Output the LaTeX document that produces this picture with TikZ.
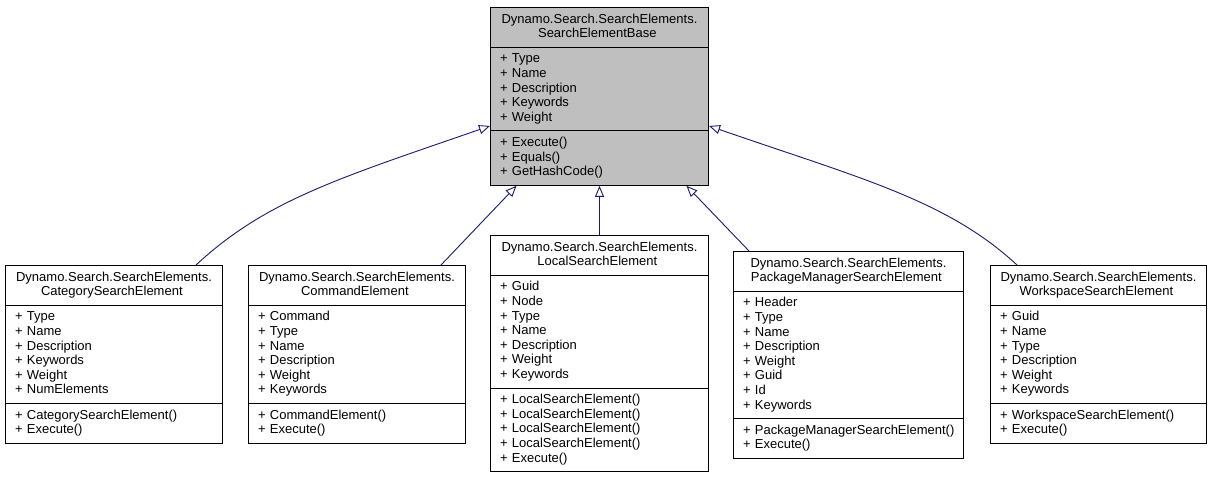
\documentclass[tikz,border=0pt]{standalone}
\usepackage{fontspec}
\setmainfont{Liberation Sans}
\usetikzlibrary{arrows.meta,shapes.multipart,positioning}
\definecolor{navy}{HTML}{191970}
\definecolor{basegray}{HTML}{BFBFBF}
\setlength{\parindent}{0pt}
\hyphenpenalty=10000

\begin{document}
\begin{tikzpicture}[x=1pt,y=1pt]
\tikzset{cls/.style={rectangle split, rectangle split parts=3, draw=black, line width=1pt, fill=white,
  anchor=north west, align=left, every text node part/.style={align=center},
  inner xsep=9.5pt, inner ysep=4.8pt,
  font=\fontsize{13}{14.6}\selectfont, execute at begin node=\strut, execute at end node=\strut}}
\tikzset{basecls/.style={cls, fill=basegray}}
\tikzset{inh/.style={draw=navy, line width=0.9pt, -{Triangle[open,length=11pt,width=9pt]}}}

\useasboundingbox (0,0) rectangle (1213,-480);

\node [basecls, text width=199pt] (base) at (490,-7) {Dynamo.Search.SearchElements.\\SearchElementBase
  \nodepart{two}+ Type\\+ Name\\+ Description\\+ Keywords\\+ Weight
  \nodepart{three}+ Execute()\\+ Equals()\\+ GetHashCode()};

\node [cls, text width=198pt] (catg) at (5,-265) {Dynamo.Search.SearchElements.\\CategorySearchElement
  \nodepart{two}+ Type\\+ Name\\+ Description\\+ Keywords\\+ Weight\\+ NumElements
  \nodepart{three}+ CategorySearchElement()\\+ Execute()};
\node [cls, text width=198pt] (cmd) at (248,-265) {Dynamo.Search.SearchElements.\\CommandElement
  \nodepart{two}+ Command\\+ Type\\+ Name\\+ Description\\+ Weight\\+ Keywords
  \nodepart{three}+ CommandElement()\\+ Execute()};
\node [cls, text width=199pt] (loc) at (490,-235) {Dynamo.Search.SearchElements.\\LocalSearchElement
  \nodepart{two}+ Guid\\+ Node\\+ Type\\+ Name\\+ Description\\+ Weight\\+ Keywords
  \nodepart{three}+ LocalSearchElement()\\+ LocalSearchElement()\\+ LocalSearchElement()\\+ LocalSearchElement()\\+ Execute()};
\node [cls, text width=211pt] (pkg) at (733,-251) {Dynamo.Search.SearchElements.\\PackageManagerSearchElement
  \nodepart{two}+ Header\\+ Type\\+ Name\\+ Description\\+ Weight\\+ Guid\\+ Id\\+ Keywords
  \nodepart{three}+~PackageManagerSearchElement()\\+ Execute()};
\node [cls, text width=197pt] (wks) at (990,-265) {Dynamo.Search.SearchElements.\\WorkspaceSearchElement
  \nodepart{two}+ Guid\\+ Name\\+ Type\\+ Description\\+ Weight\\+ Keywords
  \nodepart{three}+ WorkspaceSearchElement()\\+ Execute()};

% inheritance
\path [inh] ([xshift=-27pt]catg.north east) .. controls +(70,65) and +(-150,-52) .. ([yshift=5pt]base.two split west);
\path [inh] ([xshift=-25pt]cmd.north east) -- ([xshift=-83pt]base.south);
\path [inh] (loc.north) -- (base.south);
\path [inh] ([xshift=16pt]pkg.north west) -- ([xshift=87pt]base.south);
\path [inh] ([xshift=27pt]wks.north west) .. controls +(-70,65) and +(150,-52) .. ([yshift=5pt]base.two split east);
\end{tikzpicture}
\end{document}
